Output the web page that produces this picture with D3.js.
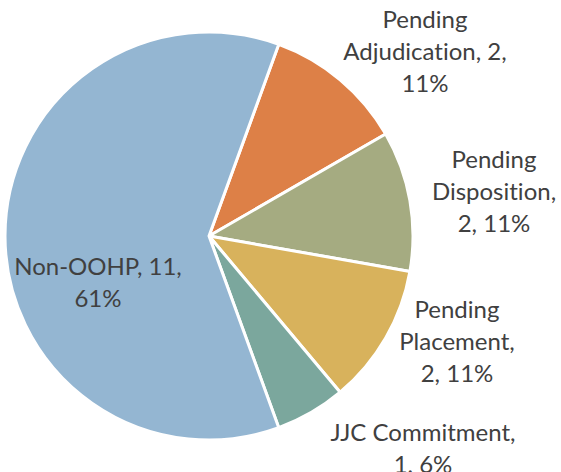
<!DOCTYPE html>
<html>
<head>
<meta charset="utf-8">
<script src="https://cdn.jsdelivr.net/npm/d3@7"></script>
<style>
  body { margin: 0; background: #fff; }
  svg { display: block; }
  text { font-variant-ligatures: none; }
</style>
</head>
<body>
<script>
// data
const categories = ["Pending Adjudication", "Pending Disposition", "Pending Placement", "JJC Commitment", "Non-OOHP"];
const values = [2, 2, 2, 1, 11];
const colors = ["#DD8047", "#A5AB81", "#D8B25C", "#7BA79D", "#94B6D2"];
// label text lines per slice
const labelLines = [
  ["Pending", "Adjudication, 2,", "11%"],
  ["Pending", "Disposition,", "2, 11%"],
  ["Pending", "Placement,", "2, 11%"],
  ["JJC Commitment,", "1, 6%"],
  ["Non-OOHP, 11,", "61%"]
];

const width = 561, height = 472;
const cx = 209, cy = 236, radius = 204;
const lineH = 32;
// centre of the first line of each label
const labelAt = [[425, 20], [494, 160], [457, 310], [423, 433], [98, 267]];

const svg = d3.select("body").append("svg")
  .attr("width", width)
  .attr("height", height);

const pie = d3.pie()
  .sort(null)
  .value(d => d)
  .startAngle(20 * Math.PI / 180)
  .endAngle(380 * Math.PI / 180);

const arc = d3.arc().innerRadius(0).outerRadius(radius);

const g = svg.append("g").attr("transform", `translate(${cx},${cy})`);

g.selectAll("path")
  .data(pie(values))
  .enter().append("path")
  .attr("d", arc)
  .attr("fill", (d, i) => colors[i])
  .attr("stroke", "#fff")
  .attr("stroke-width", 3)
  .attr("stroke-linejoin", "round");

const labels = svg.selectAll("text.lbl")
  .data(categories)
  .enter().append("text")
  .attr("class", "lbl")
  .attr("font-family", "Lato, 'Open Sans', sans-serif")
  .attr("font-size", "24px")
  .attr("fill", "#404040")
  .attr("text-anchor", "middle");

labels.each(function(d, i) {
  const t = d3.select(this);
  labelLines[i].forEach((line, j) => {
    t.append("tspan")
      .attr("x", labelAt[i][0])
      .attr("y", labelAt[i][1] + j * lineH)
      .attr("dy", "0.35em")
      .text(line);
  });
});
</script>
</body>
</html>
